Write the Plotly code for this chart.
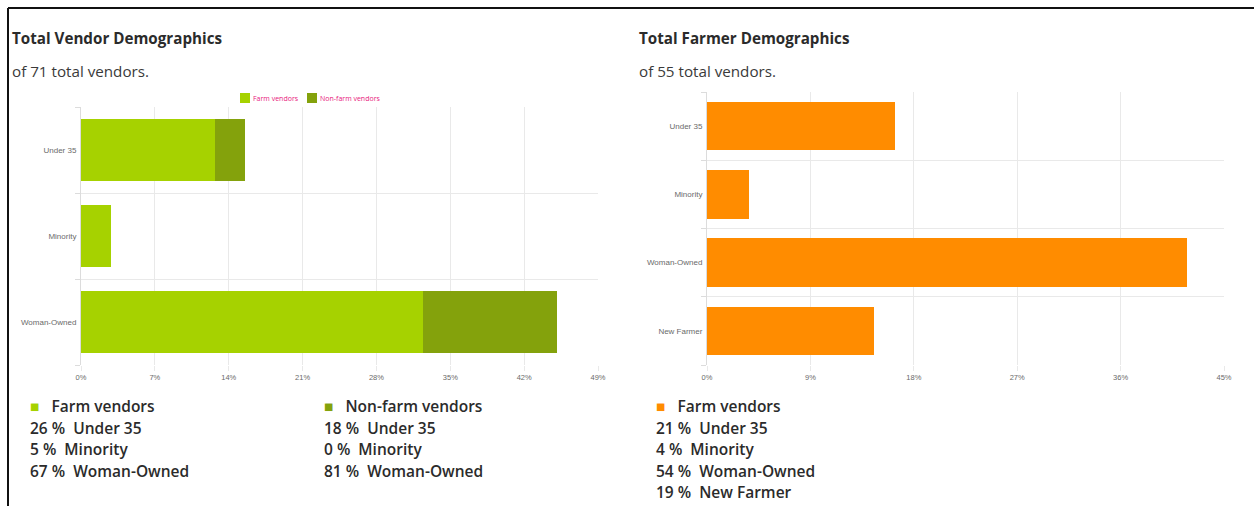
import plotly.graph_objects as go

# ---- data ----
vendor_categories = ["Under 35", "Minority", "Woman-Owned"]
farm_vendor_share = [12.68, 2.82, 32.39]        # % of 71 vendors
nonfarm_vendor_share = [2.82, 0.0, 12.68]       # % of 71 vendors
farmer_categories = ["Under 35", "Minority", "Woman-Owned", "New Farmer"]
farmer_share = [16.36, 3.64, 41.82, 14.55]      # % of 55 vendors

farm_pct = [26, 5, 67]
nonfarm_pct = [18, 0, 81]
farmer_pct = [21, 4, 54, 19]

left_ticks = [0, 7, 14, 21, 28, 35, 42, 49]
right_ticks = [0, 9, 18, 27, 36, 45]

series_names = ["Farm vendors", "Non-farm vendors"]

C_FARM = "#a6d200"
C_NONFARM = "#84a20c"
C_ORANGE = "#ff8c00"

W, H = 1254, 506

def px_x(x):
    return x / W

def px_y(y):
    return 1 - y / H

fig = go.Figure()

yl = list(range(len(vendor_categories)))
yr = list(range(len(farmer_categories)))

fig.add_trace(go.Bar(y=yl, x=farm_vendor_share, orientation="h", name=series_names[0],
                     marker=dict(color=C_FARM, line=dict(width=0)), xaxis="x", yaxis="y"))
fig.add_trace(go.Bar(y=yl, x=nonfarm_vendor_share, orientation="h", name=series_names[1],
                     marker=dict(color=C_NONFARM, line=dict(width=0)), xaxis="x", yaxis="y"))
fig.add_trace(go.Bar(y=yr, x=farmer_share, orientation="h", name=series_names[0],
                     marker=dict(color=C_ORANGE, line=dict(width=0)), xaxis="x2", yaxis="y2"))

GRID = "#e9e9e9"
TICKFONT = dict(family="Liberation Sans, Arial", size=8, color="#6a6a6a")

def xaxis_cfg(domain, rng, ticks, anchor):
    return dict(domain=domain, range=rng, tickvals=ticks, ticktext=[f"{t}%" for t in ticks],
                showgrid=True, gridcolor=GRID, gridwidth=1, zeroline=False,
                ticks="outside", ticklen=5, tickcolor=GRID,
                tickfont=dict(TICKFONT, size=7.5),
                showline=False, anchor=anchor, fixedrange=True, automargin=False)

def yaxis_cfg(domain, cats, anchor):
    n = len(cats)
    return dict(domain=domain, range=[n - 0.5, -0.5], tickvals=list(range(n)), ticktext=cats,
                showgrid=False, zeroline=False, ticks="", tickfont=TICKFONT,
                showline=True, linecolor="#dcdcdc", linewidth=1, anchor=anchor,
                ticklabelstandoff=2, automargin=False,
                minor=dict(tickvals=[i - 0.5 for i in range(n + 1)], showgrid=True,
                           gridcolor=GRID, gridwidth=1, ticks="outside", ticklen=5,
                           tickcolor="#dcdcdc"),
                fixedrange=True)

fig.update_layout(
    width=W, height=H, margin=dict(l=0, r=0, t=0, b=0, autoexpand=False),
    paper_bgcolor="white", plot_bgcolor="white",
    barmode="stack", bargap=0.29,
    xaxis=xaxis_cfg([px_x(81), px_x(598)], [0, 49], left_ticks, "y"),
    yaxis=yaxis_cfg([px_y(365), px_y(107)], vendor_categories, "x"),
    xaxis2=xaxis_cfg([px_x(707), px_x(1224)], [0, 45], right_ticks, "y2"),
    yaxis2=yaxis_cfg([px_y(365), px_y(92)], farmer_categories, "x2"),
    showlegend=False,
)

ann = []

def text(x, y, s, size=15, weight="normal", color="#333", family="Open Sans"):
    ann.append(dict(x=px_x(x), y=px_y(y), xref="paper", yref="paper", xanchor="left",
                    yanchor="middle", text=s, showarrow=False,
                    font=dict(family=family, size=size, color=color, weight=weight)))

# titles
text(10, 38, "Total Vendor Demographics", 15.2, "bold", "#2b2b2b")
text(10, 71, "of 71 total vendors.", 15.2, "normal", "#3a3a3a")
text(637, 38, "Total Farmer Demographics", 15.2, "bold", "#2b2b2b")
text(637, 71, "of 55 total vendors.", 15.2, "normal", "#3a3a3a")

# small legend of the left chart (squares + pink labels)
legend_items = [(240, C_FARM, series_names[0]), (307, C_NONFARM, series_names[1])]
for lx, col, name in legend_items:
    fig.add_shape(type="rect", xref="paper", yref="paper",
                  x0=px_x(lx), x1=px_x(lx + 10), y0=px_y(103), y1=px_y(93),
                  line=dict(width=0), fillcolor=col)
    text(lx + 11, 98, name, 7, "normal", "#e8177d")

# summary blocks under the charts
LINE_Y0 = 406
DY = 21.6
BF = 15.5

def block(x, color, label, pcts, cats):
    text(x - 2, LINE_Y0, f"<span style='color:{color}'>■</span>   {label}", BF, 600, "#2b2b2b")
    for i, (p, c) in enumerate(zip(pcts, cats)):
        text(x - 2, LINE_Y0 + DY * (i + 1), f"{p} %  {c}", BF, 600, "#2b2b2b")

block(30, C_FARM, series_names[0], farm_pct, vendor_categories)
block(324, C_NONFARM, series_names[1], nonfarm_pct, vendor_categories)
block(656, C_ORANGE, series_names[0], farmer_pct, farmer_categories)

fig.update_layout(annotations=ann)

# frame lines (top and left)
fig.add_shape(type="line", xref="paper", yref="paper", x0=px_x(8), x1=1, y0=px_y(8), y1=px_y(8),
              line=dict(color="#111", width=2))
fig.add_shape(type="line", xref="paper", yref="paper", x0=px_x(8), x1=px_x(8), y0=px_y(8), y1=0,
              line=dict(color="#111", width=2))

fig.write_html("out.html", config={"displayModeBar": False},
               post_script="document.body.style.margin='0';document.body.style.overflow='hidden';")
